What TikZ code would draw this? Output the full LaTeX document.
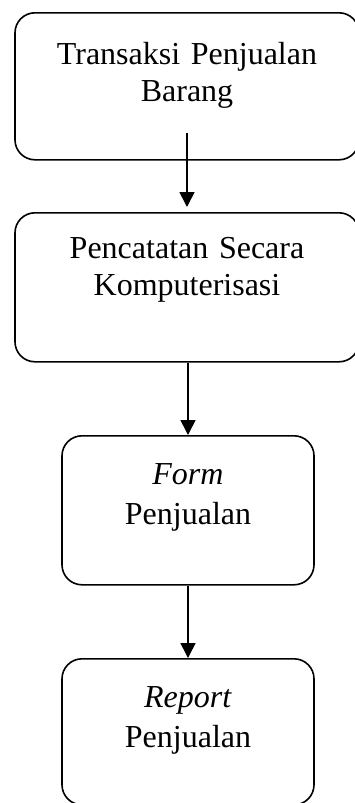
\documentclass[tikz,border=0pt]{standalone}
\usepackage{fontspec}
\setmainfont{Liberation Serif}
\usetikzlibrary{arrows.meta}

\tikzset{
  flowbox/.style={draw, line width=1.6pt, rounded corners=20pt, inner sep=0pt, anchor=north,
    align=center, text height=49pt, font=\fontsize{32}{40}\selectfont},
  widebox/.style={flowbox, text width=344pt, font=\fontsize{32}{37}\selectfont},
  narrowbox/.style={flowbox, text width=252pt},
  flowarrow/.style={line width=1.6pt, -{Triangle[length=15pt, width=15pt]}}
}

\begin{document}
\begin{tikzpicture}[x=1pt, y=-1pt]

  \useasboundingbox (0, 0) rectangle (355, 803);

  \node [widebox, text height=52pt, text depth=95pt] (transaksi) at (187, 12) {Transaksi Penjualan\\Barang};
  \node [widebox, text height=46pt, text depth=103pt] (pencatatan) at (187, 212) {Pencatatan Secara\\Komputerisasi};

  \node [narrowbox, text depth=100pt] (form) at (188, 435) {\textit{Form}\\Penjualan};
  \node [narrowbox, text depth=97pt] (report) at (188, 658) {\textit{Report}\\Penjualan};

  \coordinate (tail) at (187, 133);

  \draw [flowarrow, shorten >=5pt] (tail) -- (pencatatan.north);
  \draw [flowarrow] (pencatatan.south -| form.north) -- (form.north);
  \draw [flowarrow] (form.south) -- (report.north);

\end{tikzpicture}
\end{document}
